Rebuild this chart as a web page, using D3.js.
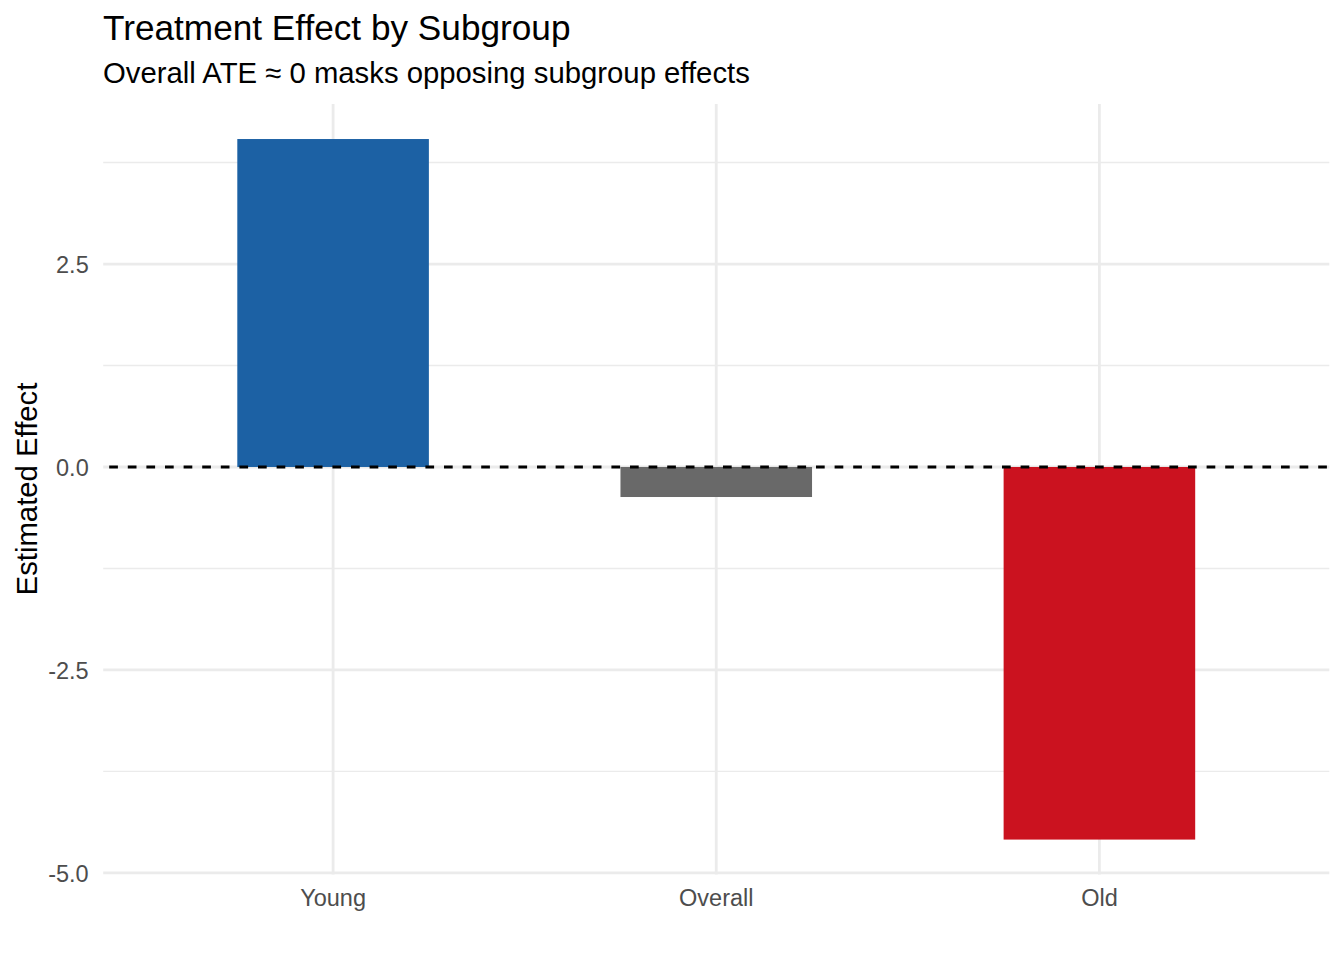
<!DOCTYPE html>
<html>
<head>
<meta charset="utf-8">
<script src="https://cdn.jsdelivr.net/npm/d3@7"></script>
<style>
  html, body { margin: 0; padding: 0; background: #ffffff; }
  svg { display: block; }
  text { font-family: "Liberation Sans", Arial, Helvetica, sans-serif; }
</style>
</head>
<body>
<svg id="chart" width="1344" height="960"></svg>
<script>
// ---- data ----
const categories = ["Young", "Overall", "Old"];
const effects = [4.04, -0.37, -4.59];
const barColors = ["#1C61A4", "#696969", "#CB121F"];
const yTicks = [-5.0, -2.5, 0.0, 2.5];
const yMinorTicks = [-3.75, -1.25, 1.25, 3.75];
const titleText = "Treatment Effect by Subgroup";
const subtitleText = "Overall ATE \u2248 0 masks opposing subgroup effects";
const yAxisTitle = "Estimated Effect";

// ---- layout ----
const W = 1344, H = 960;
const panel = { left: 103.2, right: 1329.3, top: 104, bottom: 874.6 };

const svg = d3.select("#chart");
svg.append("rect").attr("width", W).attr("height", H).attr("fill", "#ffffff");

// y scale with ggplot-style 5% expansion
const dMin = Math.min(0, d3.min(effects)), dMax = Math.max(0, d3.max(effects));
const pad = (dMax - dMin) * 0.05;
const y = d3.scaleLinear().domain([dMin - pad, dMax + pad]).range([panel.bottom, panel.top]);

// x band scale: discrete expansion 0.6, bar width 0.5
const x = d3.scaleBand().domain(categories)
  .range([panel.left, panel.right])
  .paddingInner(0.5).paddingOuter(0.35);

const grid = svg.append("g");
// minor horizontal gridlines
grid.selectAll("line.minor").data(yMinorTicks).enter().append("line")
  .attr("x1", panel.left).attr("x2", panel.right)
  .attr("y1", d => y(d)).attr("y2", d => y(d))
  .attr("stroke", "#EBEBEB").attr("stroke-width", 1.4);
// major horizontal gridlines
grid.selectAll("line.majorY").data(yTicks).enter().append("line")
  .attr("x1", panel.left).attr("x2", panel.right)
  .attr("y1", d => y(d)).attr("y2", d => y(d))
  .attr("stroke", "#EBEBEB").attr("stroke-width", 2.8);
// major vertical gridlines
grid.selectAll("line.majorX").data(categories).enter().append("line")
  .attr("x1", d => x(d) + x.bandwidth() / 2).attr("x2", d => x(d) + x.bandwidth() / 2)
  .attr("y1", panel.top).attr("y2", panel.bottom)
  .attr("stroke", "#EBEBEB").attr("stroke-width", 2.8);

// bars
svg.append("g").selectAll("rect").data(categories).enter().append("rect")
  .attr("x", d => x(d))
  .attr("width", x.bandwidth())
  .attr("y", (d, i) => y(Math.max(0, effects[i])))
  .attr("height", (d, i) => Math.abs(y(effects[i]) - y(0)))
  .attr("fill", (d, i) => barColors[i]);

// dashed zero line
svg.append("line")
  .attr("x1", panel.left).attr("x2", panel.right)
  .attr("y1", y(0)).attr("y2", y(0))
  .attr("stroke", "#000000").attr("stroke-width", 2.8)
  .attr("stroke-dasharray", "8.7 9.9")
  .attr("stroke-dashoffset", -6);

// y axis (labels only), hyphen-minus like R
const fmt = d3.format(".1f");
const yAxis = d3.axisLeft(y).tickValues(yTicks).tickSize(0).tickPadding(0)
  .tickFormat(d => fmt(d).replace("\u2212", "-"));
const gy = svg.append("g").attr("transform", `translate(${panel.left - 14.5},0)`).call(yAxis);
gy.select(".domain").remove();
gy.selectAll("text").attr("fill", "#4D4D4D").attr("font-size", 23.5)
  .attr("font-family", "Liberation Sans, Arial, sans-serif").attr("dy", "0.36em");

// x axis (labels only)
const xAxis = d3.axisBottom(x).tickSize(0).tickPadding(0);
const gx = svg.append("g").attr("transform", `translate(0,${panel.bottom})`).call(xAxis);
gx.select(".domain").remove();
gx.selectAll("text").attr("fill", "#4D4D4D").attr("font-size", 23.5)
  .attr("font-family", "Liberation Sans, Arial, sans-serif").attr("dy", null).attr("y", 31.5);

// y axis title
svg.append("text")
  .attr("transform", `translate(37,489) rotate(-90)`)
  .attr("text-anchor", "middle")
  .attr("font-size", 29.3).attr("fill", "#000000")
  .text(yAxisTitle);

// title & subtitle
svg.append("text").attr("x", 103).attr("y", 40)
  .attr("font-size", 35.2).attr("fill", "#000000").text(titleText);
svg.append("text").attr("x", 103).attr("y", 83)
  .attr("font-size", 29.3).attr("fill", "#000000").text(subtitleText);
</script>
</body>
</html>
